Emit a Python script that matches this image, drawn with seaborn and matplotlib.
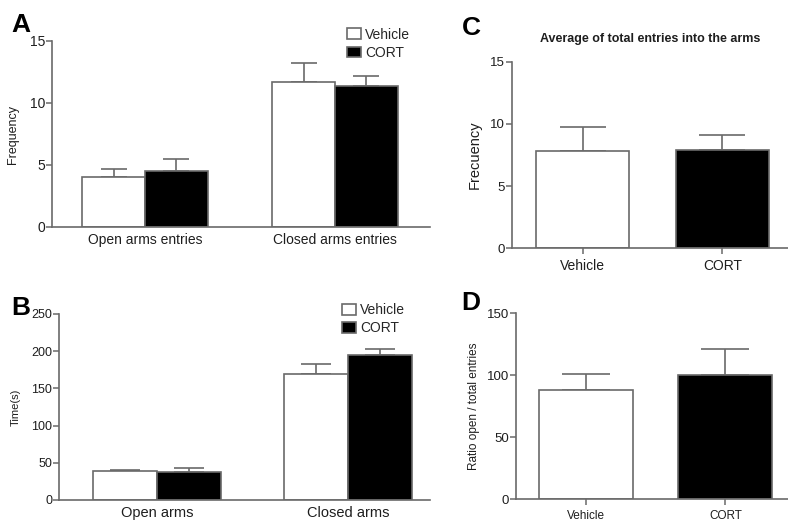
import matplotlib
matplotlib.use("Agg")
import matplotlib.pyplot as plt
import seaborn as sns
import pandas as pd
from matplotlib.patches import Patch

sns.set_style("ticks")
plt.rcParams["font.family"] = ["Liberation Sans", "DejaVu Sans"]

# ---- data ----
groups = ["Vehicle", "CORT"]

a_categories = ["Open arms entries", "Closed arms entries"]
a_vehicle = [4.0, 11.7]
a_cort = [4.5, 11.4]
a_vehicle_err = [0.65, 1.5]
a_cort_err = [1.0, 0.75]

b_categories = ["Open arms", "Closed arms"]
b_vehicle = [39, 169]
b_cort = [37, 195]
b_vehicle_err = [1.5, 14]
b_cort_err = [5.5, 8]

c_values = [7.85, 7.93]
c_err = [1.9, 1.2]

d_values = [88, 100]
d_err = [13, 21]

GRAY = "#6a6a6a"
TXT = "#1e1e1e"
palette = {"Vehicle": "white", "CORT": "black"}

W, H = 788, 521
fig = plt.figure(figsize=(W / 100, H / 100), dpi=100)


def axes_px(left, top, right, bottom):
    return fig.add_axes([left / W, 1 - bottom / H, (right - left) / W, (bottom - top) / H])


def style_axes(ax, xticks_len, xsize, ysize):
    sns.despine(ax=ax)
    for s in ("left", "bottom"):
        ax.spines[s].set_color(GRAY)
        ax.spines[s].set_linewidth(1.2)
    ax.tick_params(axis="y", colors=GRAY, labelcolor=TXT, length=4, width=1.1,
                   labelsize=ysize, pad=1)
    ax.tick_params(axis="x", colors=GRAY, labelcolor=TXT, length=xticks_len, width=1.1,
                   labelsize=xsize, pad=4)
    ax.set_xlabel("")


def add_errors(ax, errs_by_container, capsize):
    for cont, errs in zip(ax.containers, errs_by_container):
        for bar, e in zip(cont, errs):
            if bar.get_height() <= 0:
                continue
            x = bar.get_x() + bar.get_width() / 2
            ax.errorbar(x, bar.get_height(), yerr=[[0], [e]], fmt="none", ecolor=GRAY,
                        elinewidth=1.2, capsize=capsize, capthick=1.2, zorder=1)


def grouped_panel(ax, cats, veh, cort, veh_err, cort_err, width, xlim, ylim, yticks,
                  capsize, xsize, ysize):
    df = pd.DataFrame({
        "category": cats + cats,
        "value": veh + cort,
        "group": ["Vehicle"] * len(cats) + ["CORT"] * len(cats),
    })
    sns.barplot(data=df, x="category", y="value", hue="group", hue_order=groups,
                palette=palette, edgecolor=GRAY, linewidth=1.2, width=width,
                errorbar=None, ax=ax, legend=False, zorder=2)
    add_errors(ax, [veh_err, cort_err], capsize)
    ax.set_xlim(*xlim)
    ax.set_ylim(*ylim)
    ax.set_yticks(yticks)
    style_axes(ax, 0, xsize, ysize)


def single_panel(ax, values, errs, width, xlim, ylim, yticks, capsize, xsize, ysize):
    df = pd.DataFrame({"group": groups, "value": values})
    sns.barplot(data=df, x="group", y="value", hue="group", hue_order=groups,
                palette=palette, edgecolor=GRAY, linewidth=1.2, width=width,
                errorbar=None, ax=ax, legend=False, dodge=False, zorder=2)
    add_errors(ax, [[e, e] for e in errs], capsize)
    ax.set_xlim(*xlim)
    ax.set_ylim(*ylim)
    ax.set_yticks(yticks)
    style_axes(ax, 4, xsize, ysize)


def group_legend(ax, x, y, spacing):
    handles = [Patch(facecolor=palette[g], edgecolor=GRAY, linewidth=1.2, label=g)
               for g in groups]
    ax.legend(handles=handles, loc="upper left", bbox_to_anchor=(x, y), frameon=False,
              fontsize=10, handlelength=1.0, handleheight=0.8, handletextpad=0.3,
              labelspacing=spacing, borderpad=0, borderaxespad=0)


# Panel A: entries
axA = axes_px(52, 41, 430, 227)
grouped_panel(axA, a_categories, a_vehicle, a_cort, a_vehicle_err, a_cort_err,
              0.66, (-0.489, 1.5), (0, 15), [0, 5, 10, 15], 9.5, 10, 10)
axA.set_ylabel("Frequency", fontsize=9, color=TXT)
axA.yaxis.set_label_coords(-0.087, 0.5)
group_legend(axA, 0.78, 1.072, 0.3)

# Panel B: time
axB = axes_px(59, 314, 430, 500)
grouped_panel(axB, b_categories, b_vehicle, b_cort, b_vehicle_err, b_cort_err,
              0.67, (-0.513, 1.43), (0, 250), [0, 50, 100, 150, 200, 250], 10.5, 10.5, 9)
axB.set_ylabel("Time(s)", fontsize=8, color=TXT)
axB.yaxis.set_label_coords(-0.102, 0.5)
group_legend(axB, 0.762, 1.058, 0.3)

# Panel C: total entries
axC = axes_px(512, 61.7, 788, 248.3)
single_panel(axC, c_values, c_err, 0.667, (-0.505, 1.47), (0, 15), [0, 5, 10, 15],
             16.5, 10, 9.5)
axC.set_ylabel("Frecuency", fontsize=10.5, color=TXT)
axC.yaxis.set_label_coords(-0.109, 0.5)
axC.set_title("Average of total entries into the arms", fontsize=9, fontweight="bold",
              color=TXT, pad=14)

# Panel D: ratio
axD = axes_px(516, 313.3, 788, 499.3)
single_panel(axD, d_values, d_err, 0.676, (-0.504, 1.45), (0, 150), [0, 50, 100, 150],
             17, 8.5, 9.5)
axD.set_ylabel("Ratio open / total entries", fontsize=8.5, color=TXT)
axD.yaxis.set_label_coords(-0.132, 0.5)

# Panel letters
for letter, (px, py) in {"A": (11, 13), "B": (11, 296), "C": (462, 16), "D": (461, 291)}.items():
    fig.text(px / W, 1 - py / H, letter, fontsize=19, fontweight="bold",
             va="top", ha="left", color="black")

fig.savefig("out.png", dpi=100)
